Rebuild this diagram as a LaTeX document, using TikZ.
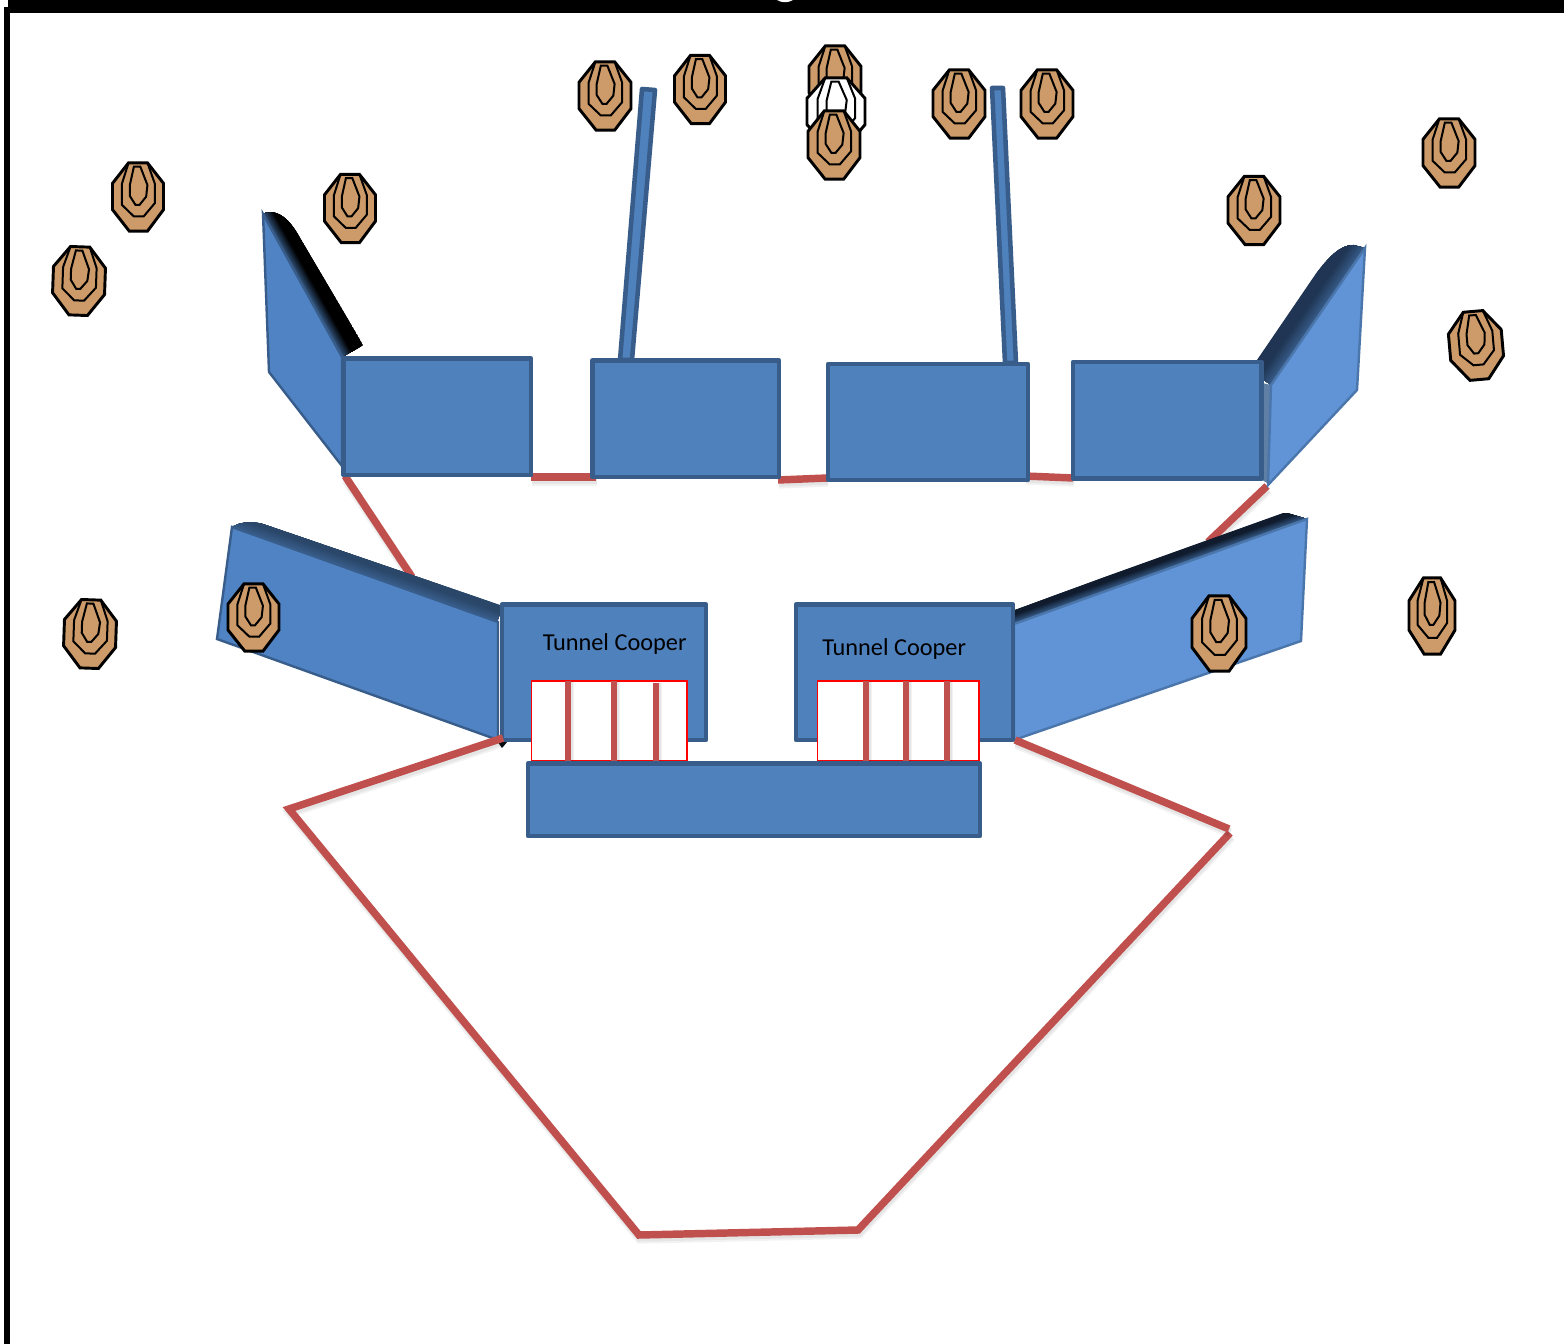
\documentclass[tikz,border=0pt]{standalone}
\usepackage{fontspec}
\setmainfont{Carlito}
\definecolor{pan}{HTML}{4F81BD}
\definecolor{panb}{HTML}{385D8A}
\definecolor{wingl}{HTML}{4F83C4}
\definecolor{wingr}{HTML}{6094D6}
\definecolor{wingrb}{HTML}{4A76AB}
\definecolor{strip}{HTML}{5F7FA5}
\definecolor{redl}{HTML}{C0504D}
\definecolor{tan}{HTML}{CD9B69}
\definecolor{navyA}{HTML}{1F3553}
\definecolor{navyB}{HTML}{2A4668}
\definecolor{navyC}{HTML}{101C2E}
\tikzset{
  panel/.style={fill=pan,draw=panb,line width=3.4bp,line join=round},
  wingL/.style={fill=wingl,draw=panb,line width=1.8bp,line join=miter},
  wingR/.style={fill=wingr,draw=wingrb,line width=1.8bp,line join=miter},
  redline/.style={draw=redl,line width=5.6bp},
  redshadow/.style={draw=black,opacity=.05},
  barline/.style={draw=redl,line width=3.8bp},
  barshadow/.style={draw=black,opacity=.05},
  whitebox/.style={fill=white,draw=red,line width=1.2bp},
  tgtouter/.style={line width=2.2bp,draw=black,line join=miter},
  tgtinner/.style={line width=1.5bp,draw=black,line join=miter},
  label/.style={font=\fontsize{18.3}{22}\selectfont,text=black,inner sep=0pt}
}
% centre x, centre y, half width, half height, rotation, fill
\newcommand\tgt[6]{%
  \begin{scope}[shift={(#1,#2)},rotate=#5,xscale={#3-1},yscale={#4-.8}]
    \draw[tgtouter,fill=#6] (-.37,-1) -- (.37,-1) -- (1,-.4) -- (1,.37) -- (.37,1) -- (-.34,1) -- (-1,.37) -- (-1,-.4) -- cycle;
    \draw[tgtinner] (-.37,-1) -- (-.63,-.39) -- (-.63,.23) -- (-.16,.57) -- (.22,.57) -- (.66,.18) -- (.66,-.39) -- (.37,-1);
    \draw[tgtinner] (-.16,-.89) -- (.09,-.89) -- (.37,-.35) -- (.32,-.01) -- (.06,.23) -- (-.10,.23) -- (-.32,-.03) -- (-.32,-.35) -- cycle;
  \end{scope}}
% clip path, edge start, edge end, px half-width, inner colour, outer colour, saturation factor
\newcommand\extr[7]{%
  \begin{scope}
    \clip #1;
    \foreach \i in {0,...,30}{%
      \pgfmathsetmacro\tt{min(100,100*#7*(30-\i)/30)}%
      \pgfmathsetmacro\ww{2*#4*.75*(30-\i)/30+.3}%
      \draw[line width=\ww bp,line cap=square,color=#6!\tt!#5] #2 -- #3;
    }
  \end{scope}}
\newcommand\redl[1]{%
  \draw[redshadow,line width=7bp,shift={(1,4)}] #1;
  \draw[redshadow,line width=5.6bp,shift={(1,3)}] #1;
  \draw[redline] #1;}
\newcommand\barl[1]{%
  \draw[barshadow,line width=7bp,shift={(1.5,0)}] #1;
  \draw[barshadow,line width=5.5bp,shift={(1,0)}] #1;
  \draw[barline] #1;}
\begin{document}
\begin{tikzpicture}[x=0.75bp,y=-0.75bp]
\useasboundingbox (0,0) rectangle (1564,1344);
\fill[white] (0,0) rectangle (1564,1344);
% frame
\fill[black] (8,0) rectangle (1564,13);
\fill[black] (4,7) rectangle (10,1344);
\fill[white] (777,0) .. controls (782,3) and (788,3) .. (793,0) -- cycle;

% top row connectors
\redl{(345,476) -- (412,577)}
\redl{(1267,486) -- (1208,542)}
\redl{(531,477) -- (596,477)}
\redl{(778,480) -- (827,478)}
\redl{(1025,476) -- (1073,478)}

% posts
\draw[panel] (642,89) -- (655,90) -- (632,360) -- (620,360) -- cycle;
\draw[panel] (992,88) -- (1003,88) -- (1016,363) -- (1005,363) -- cycle;

% upper left wing
\extr{(262,214) .. controls (274,209) and (287,214) .. (300,238) -- (313,260) -- (361,341) .. controls (363,344) and (363,346) .. (363,348) -- (363,357) -- (340,358) -- cycle}{(262,214)}{(342,357)}{24}{panb}{black}{2.2}
\draw[wingL] (263,214) -- (342,357) -- (342,466) -- (269,372) -- cycle;
% upper right wing
\extr{(1365,248) -- (1353,245) .. controls (1340,245) and (1328,258) .. (1317,272) -- (1257,360) -- (1262,386) -- (1271,386) -- cycle}{(1365,248)}{(1271,385)}{26}{panb}{navyA}{1.8}
\fill[strip] (1262,383) -- (1271,385) -- (1269,484) -- (1262,480) -- cycle;
\draw[wingR] (1365,248) -- (1357,390) -- (1268,485) -- (1271,385) -- cycle;

% top row panels
\draw[panel] (343.5,358.5) rectangle (531,475);
\draw[panel] (592.5,360.5) rectangle (779,477);
\draw[panel] (828,364) rectangle (1028,480);
\draw[panel] (1073,362) rectangle (1261.5,478.5);

% lower left wing
\extr{(232,527) .. controls (240,522) and (252,521) .. (263,524) -- (500,605) -- (500,625) -- (232,530) -- cycle}{(232,527)}{(497,622)}{17}{panb}{navyB}{1.6}
\fill[black!85!panb] (497,741) -- (508,741) -- (502,748) -- cycle;
\draw[wingL] (232,527) -- (498,622) -- (498,740) -- (217,639) -- cycle;
% lower right wing
\extr{(1307,519) -- (1287,513) .. controls (1280,513) and (1276,514) .. (1270,516) -- (1015,610) -- (1015,624) -- cycle}{(1307,519)}{(1014,624)}{13.5}{panb}{navyC}{1.6}
\draw[wingR] (1307,519) -- (1301,641) -- (1014,740) -- (1014,624) -- cycle;

% tunnel blocks
\draw[panel] (502,604.5) rectangle (706,740);
\draw[panel] (796,604.5) rectangle (1013,740);
\node[label,anchor=west] (tl) at (542.5,644) {Tunnel Cooper};
\node[label,anchor=west] (tr) at (822,649) {Tunnel Cooper};

% doors
\draw[whitebox] (531.5,681) rectangle (687,761);
\draw[whitebox] (817.5,681) rectangle (979,761);
\barl{(568,681) -- (568,761)}
\barl{(614,681) -- (614,761)}
\barl{(656,683) -- (656,761)}
\barl{(866,681) -- (866,761)}
\barl{(906,681) -- (906,761)}
\barl{(947,681) -- (947,761)}

% bottom block
\draw[panel] (528,763.5) rectangle (980,836);

% outer red polygon
\redl{(503,738) -- (289,809) -- (639,1235) -- (858,1230) -- (1230,833)}
\redl{(1229,829) -- (1015,740)}

% targets
\tgt{605}{96}{27}{35}{0}{tan}
\tgt{700}{89.5}{26.5}{35}{0}{tan}
\tgt{835}{80}{27}{35}{0}{tan}
\tgt{836}{112}{30}{35}{0}{white}
\tgt{834}{145}{27}{35}{0}{tan}
\tgt{959}{104}{27}{35}{0}{tan}
\tgt{1047}{104}{27}{35}{0}{tan}
\tgt{1449}{153}{27}{35}{0}{tan}
\tgt{1254}{210.5}{27}{35}{0}{tan}
\tgt{1476}{345.5}{27.5}{35}{5}{tan}
\tgt{350}{208.5}{26.5}{35}{0}{tan}
\tgt{138}{197}{26.5}{35}{0}{tan}
\tgt{79}{281}{27}{35}{-2}{tan}
\tgt{90}{634}{27}{35}{-2}{tan}
\tgt{253.5}{617.5}{26.5}{34.5}{0}{tan}
\tgt{1219}{633.5}{28}{38.5}{0}{tan}
\tgt{1432}{616}{24}{39}{0}{tan}
\end{tikzpicture}
\end{document}
